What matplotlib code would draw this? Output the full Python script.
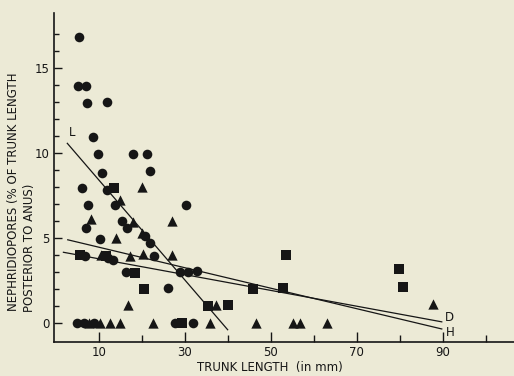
import numpy as np
import matplotlib
matplotlib.use("Agg")
import matplotlib.pyplot as plt

# ----------------------------
# Data
# ----------------------------
circle_x = [5.5, 5.1, 7.0, 7.3, 12.0, 8.7, 9.8, 18.0, 21.2, 21.9, 10.7, 6.2, 11.9,
            7.4, 13.8, 30.3, 15.4, 7.0, 16.6, 10.2, 20.8, 21.9, 22.9, 6.9, 12.2,
            13.4, 16.4, 26.2, 28.9, 30.8, 32.8, 5.0, 6.5, 9.0, 27.7, 31.9]
circle_y = [16.8, 13.9, 13.9, 12.9, 13.0, 10.9, 9.9, 9.9, 9.9, 8.9, 8.8, 7.9, 7.8,
            6.9, 6.9, 6.9, 6.0, 5.6, 5.6, 4.9, 5.1, 4.7, 3.9, 3.9, 3.8,
            3.7, 3.0, 2.05, 3.0, 3.0, 3.05, 0, 0, 0, 0, 0]

square_x = [13.6, 5.7, 11.7, 18.4, 20.5, 29.3, 35.5, 40.0, 45.8, 52.9, 53.6, 79.8, 80.8]
square_y = [7.9, 4.0, 3.9, 2.9, 2.0, 0, 1.0, 1.05, 2.0, 2.05, 4.0, 3.15, 2.1]

triangle_x = [20.0, 15.0, 8.3, 18.0, 27.0, 14.0, 20.0, 27.1, 10.5, 17.3, 20.2,
              37.3, 16.9, 7.8, 10.3, 12.7, 15.0, 22.6, 35.9, 46.5, 55.1, 56.8,
              63.0, 87.8]
triangle_y = [8.0, 7.2, 6.1, 5.95, 6.0, 5.0, 5.3, 4.0, 3.96, 3.9, 4.06,
              1.05, 1.05, 0, 0, 0, 0, 0, 0, 0, 0, 0,
              0, 1.1]

# regression lines: label, x start, x end, intercept, slope
line_names = ["L", "H", "D"]
line_x0 = [2.7, 2.8, 1.8]
line_x1 = [40.0, 89.8, 89.8]
line_b = [11.35, 5.05, 4.23]
line_m = [-0.294, -0.0603, -0.0465]

bg = "#ecead6"
ink = "#161616"
fs = 8.5

plt.rcParams["font.family"] = "DejaVu Sans"

fig = plt.figure(figsize=(5.14, 3.76), dpi=100, facecolor=bg)
ax = fig.add_axes([0.105, 0.0896, 0.895, 0.8766], facecolor=bg)

ax.scatter(circle_x, circle_y, s=48, marker="o", color=ink, linewidths=0, zorder=3)
ax.scatter(square_x, square_y, s=42, marker="s", color=ink, linewidths=0, zorder=3)
ax.scatter(triangle_x, triangle_y, s=55, marker="^", color=ink, linewidths=0, zorder=3)

for name, x0, x1, b, m in zip(line_names, line_x0, line_x1, line_b, line_m):
    xs = np.array([x0, x1])
    ax.plot(xs, b + m * xs, color=ink, lw=0.9, zorder=2)

ax.text(3.8, 11.2, "L", fontsize=fs, color=ink, ha="center", va="center")
ax.text(91.6, 0.3, "D", fontsize=fs, color=ink, ha="center", va="center")
ax.text(91.8, -0.55, "H", fontsize=fs, color=ink, ha="center", va="center")

ax.set_xlim(-0.4, 106.6)
ax.set_ylim(-1.15, 18.24)

for side in ["top", "right"]:
    ax.spines[side].set_visible(False)
for side in ["left", "bottom"]:
    ax.spines[side].set_color(ink)
    ax.spines[side].set_linewidth(1.2)

ax.set_yticks([0, 5, 10, 15])
ax.set_yticks([v for v in range(0, 18) if v % 5], minor=True)
ax.set_xticks([10, 30, 50, 70, 90])
ax.set_xticks([20, 40, 60, 80, 100], minor=True)
ax.tick_params(axis="y", which="major", direction="in", length=6, width=1, color=ink,
               labelsize=fs, labelcolor=ink, pad=3)
ax.tick_params(axis="y", which="minor", direction="in", length=3.5, width=1, color=ink)
ax.tick_params(axis="x", which="major", direction="in", length=7, width=1, color=ink,
               labelsize=fs, labelcolor=ink, pad=3)
ax.tick_params(axis="x", which="minor", direction="in", length=5, width=1, color=ink)

fig.text(0.525, 0.004, "TRUNK LENGTH  (in mm)", fontsize=fs, color=ink,
         ha="center", va="bottom")
fig.text(0.027, 0.489, "NEPHRIDIOPORES (% OF TRUNK LENGTH", rotation=90,
         fontsize=fs, color=ink, ha="center", va="center")
fig.text(0.057, 0.17, "POSTERIOR TO ANUS)", rotation=90,
         fontsize=fs, color=ink, ha="center", va="bottom")

fig.savefig("out.png", dpi=100, facecolor=bg)
